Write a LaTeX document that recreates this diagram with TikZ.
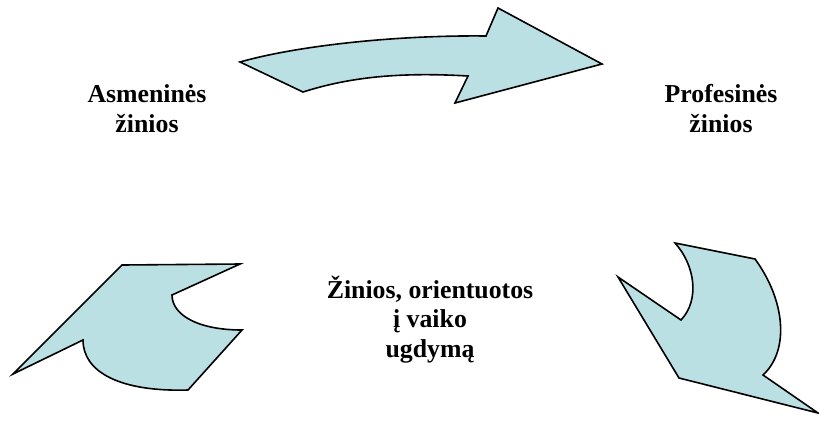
\documentclass[tikz,border=0pt]{standalone}
\usepackage{fontspec}
\setmainfont{Liberation Serif}
\definecolor{arrowfill}{HTML}{BBE0E3}
\tikzset{
  shapearrow/.style={fill=arrowfill, draw=black, line width=1.6pt, line join=miter},
  lbl/.style={font=\fontsize{25.8}{29.5}\selectfont\bfseries, align=center, inner sep=0pt, anchor=base}
}
\begin{document}
\begin{tikzpicture}[x=1pt,y=-1pt]
\useasboundingbox (0,0) rectangle (819,421);
% top arrow
\draw[shapearrow] (240,62) .. controls (300,45) and (400,35) .. (486,36)
  -- (498,8) -- (602,64) -- (455,103) -- (468,76)
  .. controls (400,72) and (350,77) .. (303,92) -- cycle;
% bottom-left arrow
\draw[shapearrow] (122,265) -- (240,264) -- (172,295)
  .. controls (172,315) and (198,330) .. (242,330)
  -- (188,390) .. controls (120,392) and (83,372) .. (83,340)
  -- (13,374) -- cycle;
% bottom-right arrow
\draw[shapearrow] (675,243) -- (755,259)
  .. controls (785,300) and (790,350) .. (763,375)
  -- (818,413) -- (679,378) -- (618,277) -- (681,320)
  .. controls (700,300) and (695,265) .. (675,243) -- cycle;
% labels (base anchor = baseline of last line)
\node[lbl] (a) at (147,132) {Asmeninės\\žinios};
\node[lbl] (p) at (721,132) {Profesinės\\žinios};
\node[lbl] (z) at (430,357) {Žinios, orientuotos\\į vaiko\\ugdymą};
\end{tikzpicture}
\end{document}
